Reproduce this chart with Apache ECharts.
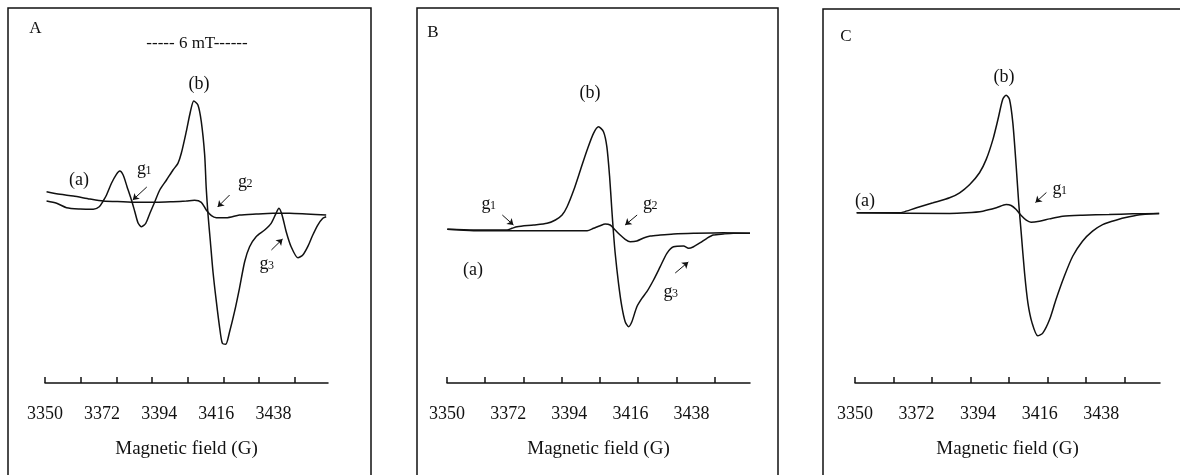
<!DOCTYPE html>
<html>
<head>
<meta charset="utf-8">
<script src="https://cdn.jsdelivr.net/npm/echarts@6/dist/echarts.min.js"></script>
<style>html,body{margin:0;padding:0;background:#fff}#c{width:1180px;height:475px}</style>
</head>
<body>
<div id="c"></div>
<script>
// ---- data (magnetic field G, signal intensity a.u.) ----
const fieldMin = 3350, fieldMax = 3459;
const tickLabels = [3350, 3372, 3394, 3416, 3438];
const tickMarks = [3350, 3363.75, 3377.5, 3391.25, 3405, 3418.75, 3432.5, 3446.25];
const axisTitle = 'Magnetic field (G)';

const panelA_b = [[3350.6,0],[3354.5,-2.3],[3358.3,-6.7],[3363.5,-8],[3368.6,-8.3],[3370.9,-5.7],[3372.4,0],[3373.7,6],[3375.6,17.7],[3377.5,26.7],[3378.8,30],[3380.1,26],[3381.6,14.3],[3383.3,1],[3384.6,-10.7],[3385.9,-22.3],[3387.2,-25.7],[3388.8,-22.3],[3390.4,-12.3],[3392.3,-0.7],[3394.2,11],[3396.8,21],[3399.3,31],[3401.2,37.7],[3402.5,47.7],[3404.4,69.3],[3406.0,89.3],[3407.3,100],[3408.9,96],[3410.2,79.3],[3411.5,46],[3412.1,12.7],[3412.8,-14],[3413.7,-40.7],[3414.7,-70.7],[3416.0,-100.7],[3417.3,-127.3],[3418.3,-142.3],[3419.6,-143.3],[3421.1,-130.7],[3423.0,-110.7],[3424.9,-87.3],[3426.9,-60.7],[3428.8,-45.7],[3431.3,-35.7],[3434.6,-29],[3437.1,-22.3],[3439.0,-12.3],[3440.1,-7.3],[3441.3,-14],[3442.9,-30.7],[3444.8,-45.7],[3447.4,-56.7],[3449.3,-54],[3451.2,-45.7],[3453.1,-34.3],[3455.0,-24.3],[3457.0,-17.3],[3458.3,-15.7]];
const panelA_a = [[3350.6,9.3],[3355.8,6.7],[3360.9,5],[3367.3,2],[3372.4,0],[3380.1,-0.7],[3386.5,-1.3],[3392.9,-1.3],[3399.3,-0.7],[3404.4,0],[3407.6,0.7],[3410.2,-1.3],[3412.1,-9],[3414.1,-14.7],[3416.0,-16.7],[3419.8,-16.7],[3424.9,-14],[3431.3,-13],[3437.8,-12.3],[3444.2,-12.3],[3450.6,-13],[3458.3,-14]];

const panelB_b = [[3350.1,1.4],[3359.6,0.7],[3371.6,0.7],[3373.4,2.4],[3375.2,4],[3381.2,5.7],[3386.0,7.4],[3389.0,10.7],[3391.4,15.7],[3393.2,24],[3395.6,40.7],[3398.0,60.7],[3400.4,80.7],[3402.7,97.4],[3404.5,104],[3406.3,99],[3407.5,84],[3408.5,54],[3409.3,20.7],[3409.9,-2.6],[3410.5,-22.6],[3411.7,-52.6],[3412.9,-76],[3414.1,-91],[3415.3,-96],[3416.5,-91],[3418.3,-76],[3420.1,-67.6],[3421.9,-61],[3424.3,-49.3],[3426.7,-36],[3429.1,-22.6],[3431.5,-16],[3435.1,-15.3],[3436.9,-17.6],[3438.7,-16],[3441.1,-12],[3443.5,-7.6],[3445.8,-4.3],[3449.4,-3.3],[3453.0,-2.6],[3459.0,-2.6]];
const panelB_a = [[3350.1,1.4],[3359.6,0],[3371.6,0],[3383.6,0],[3395.6,0],[3400.4,0],[3402.7,2.4],[3405.1,5],[3406.9,6.7],[3408.7,5.7],[3410.5,0.7],[3412.3,-4.3],[3414.1,-8.6],[3415.9,-11],[3418.3,-10.3],[3420.7,-7.3],[3423.1,-5.3],[3426.7,-4.3],[3431.5,-3.3],[3438.7,-2.6],[3449.4,-2],[3459.0,-2.6]];

const panelC_b = [[3350.6,0],[3366.0,0],[3367.2,0.7],[3372.0,5],[3377.9,10],[3383.8,15],[3387.4,20],[3391.0,28.3],[3394.5,40],[3396.9,53.3],[3399.3,73.3],[3401.1,93.3],[3402.8,113.3],[3404.0,117.3],[3405.2,113.3],[3406.4,90],[3407.6,46.7],[3408.5,10],[3409.4,-20],[3410.6,-60],[3411.8,-90],[3413.3,-110],[3415.3,-122.7],[3417.1,-120],[3419.5,-106.7],[3421.8,-86.7],[3424.8,-63.3],[3427.8,-43.3],[3431.3,-28.3],[3434.9,-18.3],[3438.5,-11.7],[3443.2,-7.3],[3448.0,-4],[3452.7,-1.7],[3458.7,-0.7]];
const panelC_a = [[3350.6,0],[3383.8,-0.7],[3389.8,0],[3395.7,1.7],[3400.5,5],[3404.0,8.3],[3405.8,7.3],[3407.6,3.3],[3409.4,-2.7],[3411.2,-7.3],[3412.9,-9.3],[3415.9,-8.3],[3419.5,-6],[3424.2,-3.3],[3431.3,-2.3],[3440.8,-1.7],[3449.2,-1],[3458.7,-0.7]];

// annotation arrows [from, to] in (G, intensity)
const arrowsA = [[[3389.2,14],[3383.8,1]],[[3421.1,6],[3416.5,-6]],[[3437.2,-49],[3441.5,-38]]];
const arrowsB = [[[3369.9,15.7],[3373.9,5.7]],[[3418.4,15.7],[3414.1,5.7]],[[3432.1,-42.3],[3436.8,-31.3]]];
const arrowsC = [[[3418.4,20.3],[3414.5,10.3]]];

// ---- chart ----
const SERIF = '"Liberation Serif", "DejaVu Serif", serif';
const INK = '#111';
const grids = [
  {left: 45, width: 283, top: 8, height: 375},
  {left: 447, width: 303, top: 8, height: 375},
  {left: 855, width: 305, top: 8, height: 375}
];
const yRanges = [[-182, 193], [-152.3, 222.7], [-169.7, 204.3]];

function xAxisFor(i) {
  return {
    gridIndex: i, type: 'value', min: fieldMin, max: fieldMax,
    axisLine: {show: true, onZero: false, lineStyle: {color: INK, width: 1.5}},
    axisTick: {show: true, inside: true, length: 6, customValues: tickMarks, lineStyle: {color: INK, width: 1.5}},
    axisLabel: {customValues: tickLabels, margin: 22, fontSize: 18, fontFamily: SERIF, color: INK,
      formatter: function (v) { return String(Math.round(v)); }},
    splitLine: {show: false},
    name: axisTitle, nameLocation: 'middle', nameGap: 57,
    nameTextStyle: {fontSize: 19, fontFamily: SERIF, color: INK}
  };
}
function yAxisFor(i) {
  return {gridIndex: i, type: 'value', show: false, min: yRanges[i][0], max: yRanges[i][1], splitLine: {show: false}};
}
function lineSeries(i, data, arrows) {
  const s = {
    type: 'line', xAxisIndex: i, yAxisIndex: i, data: data,
    showSymbol: false, smooth: 0.25, clip: false,
    lineStyle: {color: INK, width: 1.5}
  };
  if (arrows) {
    s.markLine = {
      silent: true, symbol: ['none', 'arrow'], symbolSize: 6,
      lineStyle: {color: INK, width: 1, type: 'solid'},
      label: {show: false},
      data: arrows.map(a => [{coord: a[0]}, {coord: a[1]}])
    };
  }
  return s;
}

function txt(x, y, text, size) {
  return {type: 'text', x: x, y: y, silent: true,
    style: {text: text, fill: INK, font: (size || 18) + 'px ' + SERIF, textAlign: 'center', textVerticalAlign: 'middle'}};
}
function gLabel(gx, gy, sub) {
  return [txt(gx, gy, 'g', 18), txt(gx + 7, gy + 1, sub, 12)];
}
function frame(x, y, w, h) {
  return {type: 'rect', shape: {x: x, y: y, width: w, height: h}, silent: true,
    style: {fill: 'none', stroke: INK, lineWidth: 1.5}};
}

const graphics = [
  frame(8, 8, 363, 480), frame(417, 8, 361, 480), frame(823, 9, 380, 480),
  txt(35.5, 29, 'A', 17), txt(197, 44, '----- 6 mT------', 17),
  txt(199, 84, '(b)'), txt(79, 180, '(a)'),
  ...gLabel(141.5, 169.5, '1'),
  ...gLabel(242.5, 182.5, '2'),
  ...gLabel(264, 264.5, '3'),
  txt(433, 33, 'B', 17), txt(590, 93, '(b)'), txt(473, 270, '(a)'),
  ...gLabel(486, 204.5, '1'),
  ...gLabel(647.5, 204.5, '2'),
  ...gLabel(668, 292.5, '3'),
  txt(846, 37, 'C', 17), txt(1004, 77, '(b)'), txt(865, 201, '(a)'),
  ...gLabel(1057, 189.5, '1')
];

const chart = echarts.init(document.getElementById('c'), null, {renderer: 'canvas'});
chart.setOption({
  animation: false,
  backgroundColor: '#fff',
  grid: grids,
  xAxis: [xAxisFor(0), xAxisFor(1), xAxisFor(2)],
  yAxis: [yAxisFor(0), yAxisFor(1), yAxisFor(2)],
  series: [
    lineSeries(0, panelA_a), lineSeries(0, panelA_b, arrowsA),
    lineSeries(1, panelB_a), lineSeries(1, panelB_b, arrowsB),
    lineSeries(2, panelC_a), lineSeries(2, panelC_b, arrowsC)
  ],
  graphic: graphics
});
</script>
</body>
</html>
